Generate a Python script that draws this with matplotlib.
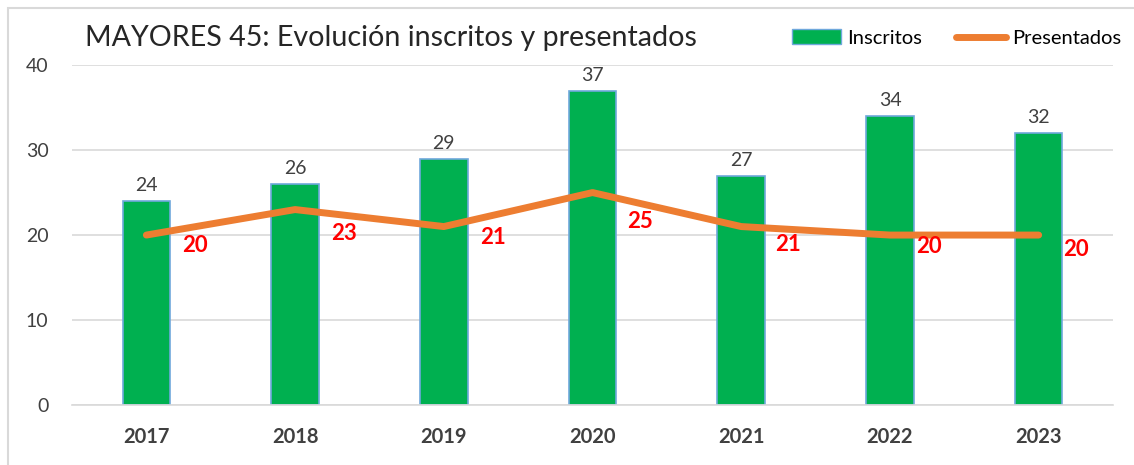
import matplotlib
matplotlib.use("Agg")
import matplotlib.pyplot as plt
from matplotlib.patches import Rectangle
from matplotlib.lines import Line2D
from matplotlib.patches import Patch

years = ["2017", "2018", "2019", "2020", "2021", "2022", "2023"]
inscritos = [24, 26, 29, 37, 27, 34, 32]
presentados = [20, 23, 21, 25, 21, 20, 20]

# label placement offsets (pixels right, pixels down) for the red data labels
label_dx = [49, 49, 49, 47, 47, 39, 37]
label_dy = [10, 24, 11, 29, 18, 11, 14]

plt.rcParams['font.family'] = ['Lato', 'DejaVu Sans']

fig = plt.figure(figsize=(11.34, 4.65), dpi=100)
ax = fig.add_axes([0.0635, 0.129, 0.918, 0.731])

x = list(range(len(years)))
green = "#00B050"
orange = "#ED7D31"
ax.bar(x, inscritos, width=0.32, color=green, edgecolor="#6FA8DC", linewidth=1.2, zorder=2)
ax.plot(x, presentados, color=orange, linewidth=5, solid_capstyle="round", zorder=3)

for xi, v in zip(x, inscritos):
    ax.annotate(str(v), (xi, v), xytext=(0, 7), textcoords="offset pixels",
                ha="center", va="bottom", fontsize=14, color="#404040")
for xi, v, dx, dy in zip(x, presentados, label_dx, label_dy):
    ax.annotate(str(v), (xi, v), xytext=(dx, -dy), textcoords="offset pixels",
                ha="center", va="center", fontsize=16, color="#FF0000", fontweight="bold",
                zorder=4)

ax.set_xlim(-0.5, len(years) - 0.5)
ax.set_ylim(0, 40)
ax.set_yticks([0, 10, 20, 30, 40])
ax.set_xticks(x)
ax.set_xticklabels(years, fontweight="bold", fontsize=14.5, color="#404040")
ax.tick_params(axis="y", labelsize=14, labelcolor="#404040", length=0, pad=17)
ax.tick_params(axis="x", length=0, pad=16)
ax.grid(axis="y", color="#D9D9D9", linewidth=1.2, zorder=0)
ax.set_axisbelow(True)
for s in ["top", "right", "left"]:
    ax.spines[s].set_visible(False)
ax.spines["bottom"].set_color("#D9D9D9")
ax.spines["bottom"].set_linewidth(1.2)

fig.text(0.075, 0.918, "MAYORES 45: Evolución inscritos y presentados", fontsize=20.6,
         color="#262626", ha="left", va="center")

handles = [Patch(facecolor=green, edgecolor="#6FA8DC", label="Inscritos"),
           Line2D([0], [0], color=orange, linewidth=5, solid_capstyle="round",
                  label="Presentados")]
fig.legend(handles=handles, loc="center right", bbox_to_anchor=(0.9885, 0.918), ncol=2,
           frameon=False, fontsize=14.5, handlelength=2.45, handleheight=0.75,
           handletextpad=0.3, columnspacing=1.7, borderpad=0, borderaxespad=0)

fig.patches.append(Rectangle((0.007, -0.05), 1.1, 1.033, transform=fig.transFigure,
                             fill=False, edgecolor="#D9D9D9", linewidth=1.5))

fig.savefig("out.png", dpi=100)
